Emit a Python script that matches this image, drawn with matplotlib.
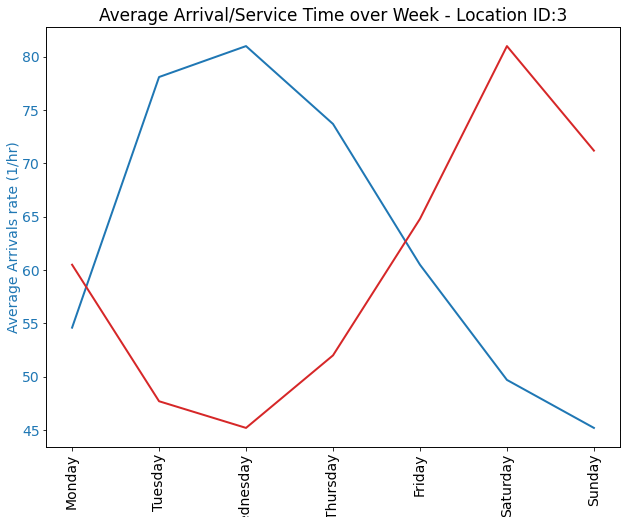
import matplotlib
matplotlib.use('Agg')
import matplotlib.pyplot as plt

# Дані
days = ['Monday', 'Tuesday', 'Wednesday', 'Thursday', 'Friday', 'Saturday', 'Sunday']
arrivals = [54.6, 78.1, 81.0, 73.7, 60.5, 49.7, 45.2]
service = [60.5, 47.7, 45.2, 52.0, 64.8, 81.0, 71.2]

# Розмір 621x517 пікселів при dpi=72
fig = plt.figure(figsize=(621 / 72, 517 / 72), dpi=72)
ax1 = fig.add_axes([46 / 621, 70 / 517, 574 / 621, 420 / 517])

ax1.plot(days, arrivals, color='tab:blue', linewidth=2)
ax1.set_ylabel('Average Arrivals rate (1/hr)', color='tab:blue', fontsize=14, labelpad=1)
ax1.tick_params(axis='y', labelcolor='tab:blue', labelsize=14, pad=2.5)
ax1.tick_params(axis='x', labelsize=14, rotation=90)

# Друга вісь (підписи обрізані праворуч)
ax2 = ax1.twinx()
ax2.plot(days, service, color='tab:red', linewidth=2)
ax2.tick_params(axis='y', labelcolor='tab:red', labelsize=14)

ax1.set_title('Average Arrival/Service Time over Week - Location ID:3', fontsize=17)

fig.savefig('out.png', dpi=72)
